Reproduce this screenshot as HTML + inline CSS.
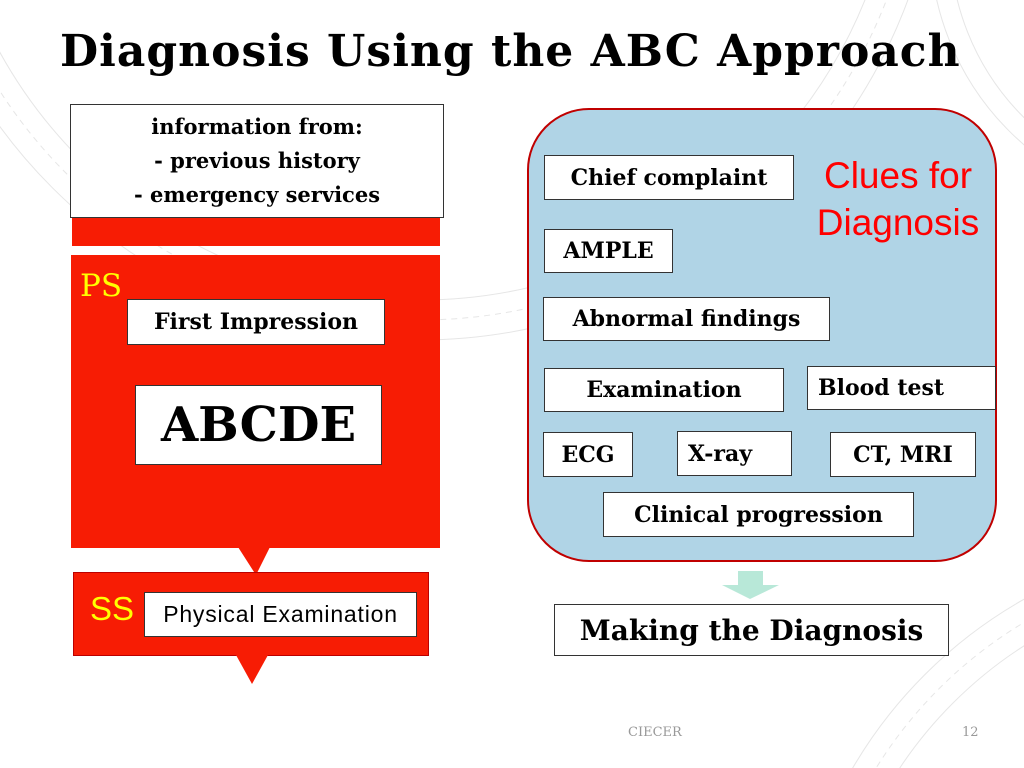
<!DOCTYPE html>
<html style="overflow:hidden"><head><meta charset="utf-8"><style>
html,body{margin:0;width:1024px;height:768px;overflow:hidden;}
body{background:#fff;position:relative;font-family:"DejaVu Serif","Liberation Serif",serif;}
.a{position:absolute;box-sizing:border-box;}
.b{position:absolute;box-sizing:border-box;background:#fff;border:1.5px solid #333;font-weight:bold;display:flex;align-items:center;justify-content:center;white-space:nowrap;color:#000;}
.t{font-size:22px;}
svg{display:block;}
</style></head><body>
<svg class="a" style="left:0;top:0" width="1024" height="768">
<g fill="none" stroke="#e6e6e6" stroke-width="1">
<circle cx="420" cy="-180" r="480"/><circle cx="420" cy="-180" r="500" stroke-dasharray="6 5"/><circle cx="420" cy="-180" r="520"/>
<circle cx="1250" cy="1000" r="420"/><circle cx="1250" cy="1000" r="440" stroke-dasharray="6 5"/><circle cx="1250" cy="1000" r="460"/>
<circle cx="1200" cy="-60" r="250"/><circle cx="1200" cy="-60" r="270"/>
</g></svg>
<div class="a" style="left:60px;top:26px;font-size:44px;font-weight:bold;white-space:nowrap;letter-spacing:1px">Diagnosis Using the ABC Approach</div>

<div class="a" style="left:72px;top:216px;width:368px;height:30px;background:#f71c04"></div>
<div class="b" style="left:70px;top:104px;width:374px;height:114px;flex-direction:column;font-size:21px;line-height:34px">
<div>information from:</div><div>- previous history</div><div>- emergency services</div></div>

<div class="a" style="left:71px;top:255px;width:369px;height:293px;background:#f71c04"></div>
<svg class="a" style="left:236px;top:547px" width="40" height="30"><polygon points="2,0 34,0 20,28" fill="#f71c04"/></svg>
<div class="a" style="left:80px;top:268px;color:#ffff00;font-size:31px;">PS</div>
<div class="b t" style="left:127px;top:299px;width:258px;height:46px">First Impression</div>
<div class="b" style="left:135px;top:385px;width:247px;height:80px;font-size:48px">ABCDE</div>

<div class="a" style="left:73px;top:572px;width:356px;height:84px;background:#f71c04;border:1.5px solid #b00"></div>
<svg class="a" style="left:232px;top:655px" width="40" height="32"><polygon points="4,0 36,0 20,29" fill="#f71c04"/></svg>
<div class="a" style="left:90px;top:590px;color:#ffff00;font-size:33px;font-family:'Liberation Sans',sans-serif">SS</div>
<div class="b" style="left:144px;top:592px;width:273px;height:45px;font-weight:normal;font-family:'Liberation Sans',sans-serif;font-size:23px;letter-spacing:0.8px">Physical Examination</div>

<div class="a" style="left:527px;top:108px;width:470px;height:454px;background:#b0d4e6;border:2px solid #c00000;border-radius:62px"></div>
<div class="a" style="left:802px;top:152px;width:192px;color:#f00;font-size:37px;font-family:'Liberation Sans',sans-serif;line-height:47px;text-align:center">Clues for<br>Diagnosis</div>
<div class="b t" style="left:544px;top:155px;width:250px;height:45px">Chief complaint</div>
<div class="b t" style="left:544px;top:229px;width:129px;height:44px">AMPLE</div>
<div class="b t" style="left:543px;top:297px;width:287px;height:44px">Abnormal findings</div>
<div class="b t" style="left:544px;top:368px;width:240px;height:44px">Examination</div>
<div class="b t" style="left:807px;top:366px;width:189px;height:44px;justify-content:flex-start;padding-left:10px">Blood test</div>
<div class="b t" style="left:543px;top:432px;width:90px;height:45px">ECG</div>
<div class="b t" style="left:677px;top:431px;width:115px;height:45px;justify-content:flex-start;padding-left:10px">X-ray</div>
<div class="b t" style="left:830px;top:432px;width:146px;height:45px">CT, MRI</div>
<div class="b t" style="left:603px;top:492px;width:311px;height:45px">Clinical progression</div>

<svg class="a" style="left:720px;top:570px" width="62" height="32"><polygon points="18,1 43,1 43,15 59,15 30,29 2,15 18,15" fill="#b8e8d8"/></svg>
<div class="b" style="left:554px;top:604px;width:395px;height:52px;font-size:28px">Making the Diagnosis</div>

<div class="a" style="left:628px;top:725px;color:#999;font-size:13px">CIECER</div>
<div class="a" style="left:962px;top:725px;color:#999;font-size:13px">12</div>
</body></html>
